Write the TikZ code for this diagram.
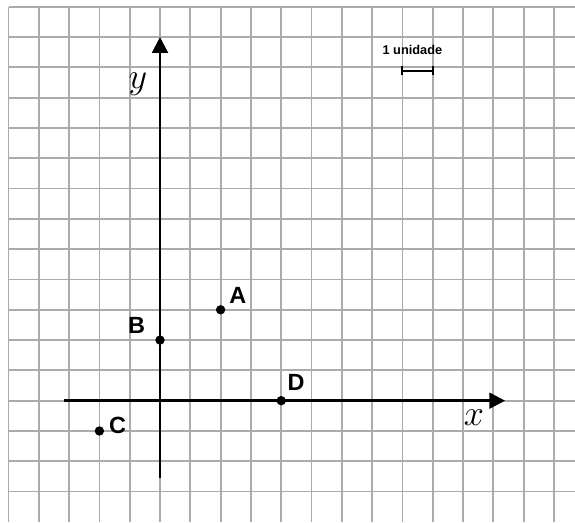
\RequirePackage{fix-cm}
\documentclass[tikz,border=0pt]{standalone}
\usepackage{fontspec}
\newfontfamily\lab{Liberation Sans}
\usetikzlibrary{arrows.meta}
\begin{document}
\begin{tikzpicture}[x=1cm,y=1cm,
  gridline/.style={draw=black!33,line width=1.7pt},
  axis/.style={draw=black,line width=2.4pt,-{Triangle[length=0.52cm,width=0.52cm]}},
  pt/.style={circle,fill=black,inner sep=0pt,minimum size=0.31cm},
  ptlabel/.style={font=\lab\bfseries\fontsize{22}{24}\selectfont,inner sep=0pt},
  axlabel/.style={font=\fontsize{34}{36}\selectfont,inner sep=0pt}]
\useasboundingbox (-5.281,-4.004) rectangle (13.696,13.224);
\fill[white] (-5.281,-4.004) rectangle (13.696,13.224);
% grid
\foreach \i in {-5,...,13} \draw[gridline] (\i,-4.004) -- (\i,13);
\foreach \j in {-3,...,13} \draw[gridline] (-5,\j) -- (13.696,\j);
% axes
\coordinate (xs) at (-3.17,0);
\coordinate (xe) at (11.39,0);
\coordinate (ys) at (0,-2.56);
\coordinate (ye) at (0,12);
\draw[axis] (xs) -- (xe);
\draw[axis] (ys) -- (ye);
\node[axlabel] (xl) at (10.36,-0.55) {$x$};
\node[axlabel] (yl) at (-0.73,10.45) {$y$};
% points
\node[pt] (A) at (2,3) {};
\node[pt] (B) at (0,2) {};
\node[pt] (C) at (-2,-1) {};
\node[pt] (D) at (4,0) {};
\node[ptlabel] (Al) at (2.57,3.47) {A};
\node[ptlabel] (Bl) at (-0.77,2.47) {B};
\node[ptlabel] (Cl) at (-1.40,-0.83) {C};
\node[ptlabel] (Dl) at (4.49,0.59) {D};
% scale
\node[font=\lab\bfseries\fontsize{12}{14}\selectfont,inner sep=0pt] (u) at (8.33,11.56) {1 unidade};
\coordinate (s1) at (8,10.89);
\coordinate (s2) at (9,10.89);
\draw[line width=1.8pt] (s1) -- (s2);
\draw[line width=1.8pt] ([yshift=-0.15cm]s1) -- ([yshift=0.15cm]s1);
\draw[line width=1.8pt] ([yshift=-0.15cm]s2) -- ([yshift=0.15cm]s2);
\end{tikzpicture}
\end{document}
